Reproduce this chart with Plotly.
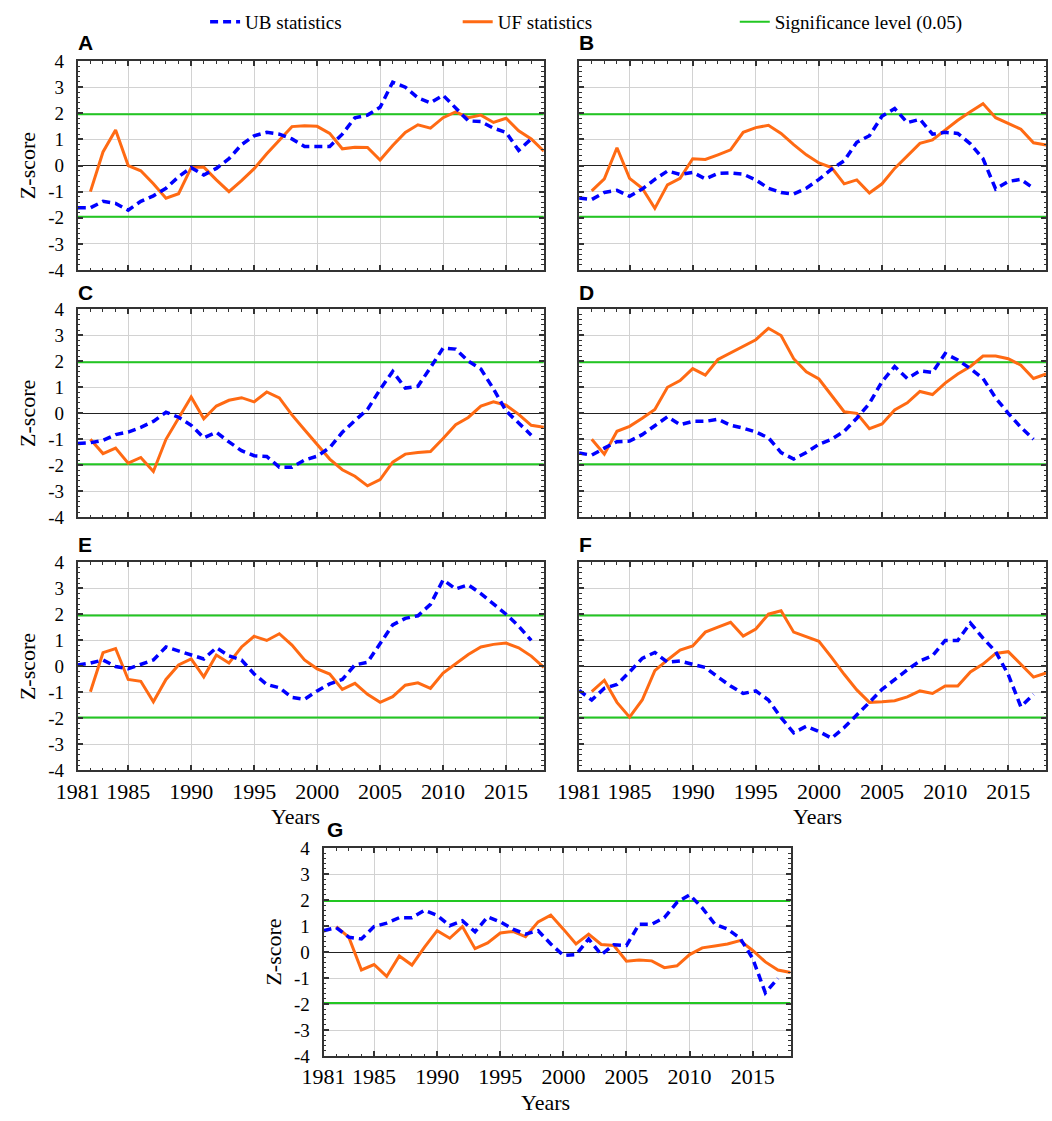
import plotly.graph_objects as go

# ---------------- data ----------------
YEARS_UB = list(range(1981, 2018))   # UB statistics 1981-2017
YEARS_UF = list(range(1982, 2019))   # UF statistics 1982-2018
X_RANGE = [1981, 2018]
X_TICKS = [1981, 1985, 1990, 1995, 2000, 2005, 2010, 2015]
Y_TICKS = [-4, -3, -2, -1, 0, 1, 2, 3, 4]
SIG = 1.96
PANELS = ["A", "B", "C", "D", "E", "F", "G"]

UF_A = [-1.0, 0.52, 1.36, 0.0, -0.2, -0.7, -1.25, -1.08,
        -0.08, -0.06, -0.55, -1.0, -0.58, -0.12, 0.45, 0.98, 1.49, 1.52,
        1.5, 1.23, 0.64, 0.7, 0.69, 0.21, 0.77, 1.27, 1.56, 1.43,
        1.83, 2.05, 1.83, 1.93, 1.65, 1.81, 1.33, 1.02, 0.55]
UB_A = [-1.62, -1.62, -1.37, -1.45, -1.71, -1.37, -1.16, -0.87, -0.43,
        -0.08, -0.36, -0.11, 0.26, 0.8, 1.14, 1.27, 1.2, 1.02, 0.73,
        0.73, 0.73, 1.2, 1.83, 1.93, 2.23, 3.19, 3.0, 2.59, 2.4,
        2.69, 2.19, 1.71, 1.68, 1.43, 1.27, 0.58, 1.02]

UF_B = [-0.97, -0.51, 0.68, -0.49, -0.87, -1.64, -0.74, -0.49,
        0.26, 0.23, 0.41, 0.6, 1.27, 1.45, 1.54, 1.23, 0.8, 0.41,
        0.1, -0.08, -0.7, -0.55, -1.05, -0.7, -0.11, 0.39, 0.85, 0.98,
        1.35, 1.73, 2.06, 2.37, 1.83, 1.6, 1.39, 0.87, 0.79]
UB_B = [-1.24, -1.3, -1.03, -0.95, -1.18, -0.9, -0.53, -0.21, -0.34,
        -0.26, -0.51, -0.3, -0.28, -0.33, -0.55, -0.87, -1.03, -1.09, -0.87,
        -0.53, -0.14, 0.18, 0.89, 1.14, 1.89, 2.18, 1.64, 1.77, 1.2,
        1.27, 1.23, 0.83, 0.26, -0.9, -0.61, -0.53, -0.87]

UF_C = [-1.0, -1.55, -1.34, -1.92, -1.7, -2.24, -1.0, -0.19,
        0.63, -0.21, 0.28, 0.5, 0.6, 0.44, 0.82, 0.59, -0.06, -0.63,
        -1.19, -1.76, -2.17, -2.42, -2.79, -2.55, -1.88, -1.57, -1.51, -1.47,
        -0.97, -0.44, -0.16, 0.28, 0.44, 0.31, -0.04, -0.46, -0.54]
UB_C = [-1.16, -1.13, -1.04, -0.82, -0.72, -0.54, -0.31, 0.04, -0.15,
        -0.46, -0.94, -0.73, -1.1, -1.44, -1.63, -1.66, -2.07, -2.07, -1.8,
        -1.65, -1.32, -0.73, -0.28, 0.15, 0.92, 1.61, 0.97, 1.04, 1.76,
        2.51, 2.47, 2.01, 1.7, 0.94, 0.09, -0.38, -0.84]

UF_D = [-1.0, -1.57, -0.69, -0.5, -0.19, 0.15, 1.0, 1.26,
        1.72, 1.47, 2.07, 2.32, 2.58, 2.83, 3.27, 2.99, 2.1, 1.6,
        1.32, 0.69, 0.06, 0.0, -0.59, -0.41, 0.13, 0.4, 0.84, 0.72,
        1.16, 1.51, 1.8, 2.2, 2.2, 2.1, 1.85, 1.34, 1.51]
UB_D = [-1.53, -1.61, -1.34, -1.09, -1.07, -0.82, -0.48, -0.13, -0.44,
        -0.31, -0.31, -0.23, -0.46, -0.57, -0.72, -0.94, -1.51, -1.76, -1.51,
        -1.19, -1.0, -0.69, -0.19, 0.38, 1.22, 1.8, 1.34, 1.63, 1.57,
        2.3, 2.05, 1.72, 1.34, 0.59, 0.0, -0.54, -1.0]

UF_E = [-0.97, 0.53, 0.69, -0.5, -0.57, -1.36, -0.5, 0.06,
        0.29, -0.4, 0.44, 0.13, 0.75, 1.16, 1.0, 1.26, 0.82, 0.25,
        -0.09, -0.29, -0.88, -0.65, -1.07, -1.38, -1.16, -0.72, -0.63, -0.84,
        -0.25, 0.1, 0.46, 0.75, 0.85, 0.9, 0.72, 0.4, -0.04]
UB_E = [0.06, 0.13, 0.25, 0.0, -0.09, 0.09, 0.25, 0.75, 0.59,
        0.44, 0.29, 0.72, 0.41, 0.25, -0.29, -0.69, -0.82, -1.19, -1.26,
        -0.94, -0.67, -0.5, 0.06, 0.16, 0.88, 1.6, 1.85, 1.95, 2.39,
        3.33, 2.98, 3.14, 2.8, 2.39, 2.01, 1.55, 1.0]

UF_F = [-0.97, -0.53, -1.38, -1.95, -1.29, -0.16, 0.25, 0.63,
        0.79, 1.32, 1.51, 1.7, 1.17, 1.44, 2.01, 2.14, 1.32, 1.13,
        0.97, 0.35, -0.3, -0.9, -1.38, -1.36, -1.32, -1.17, -0.94, -1.04,
        -0.75, -0.75, -0.21, 0.09, 0.5, 0.57, 0.06, -0.41, -0.25]
UB_F = [-0.92, -1.29, -0.84, -0.69, -0.21, 0.31, 0.54, 0.16, 0.21,
        0.1, -0.04, -0.41, -0.75, -1.04, -0.94, -1.29, -1.97, -2.55, -2.3,
        -2.5, -2.76, -2.35, -1.88, -1.38, -0.88, -0.5, -0.13, 0.21, 0.41,
        1.0, 1.0, 1.67, 1.09, 0.57, -0.31, -1.55, -1.07]

UF_G = [0.98, 0.57, -0.69, -0.48, -0.94, -0.15, -0.5, 0.19,
        0.82, 0.53, 0.98, 0.13, 0.35, 0.73, 0.79, 0.59, 1.16, 1.42,
        0.88, 0.31, 0.69, 0.29, 0.25, -0.35, -0.31, -0.34, -0.6, -0.53,
        -0.1, 0.16, 0.23, 0.31, 0.44, 0.06, -0.38, -0.69, -0.79]
UB_G = [0.82, 0.94, 0.57, 0.5, 0.98, 1.11, 1.32, 1.32, 1.6,
        1.41, 1.01, 1.2, 0.78, 1.35, 1.16, 0.88, 0.69, 0.82, 0.31,
        -0.13, -0.1, 0.5, -0.1, 0.28, 0.25, 1.07, 1.07, 1.32, 1.91,
        2.2, 1.7, 1.07, 0.88, 0.53, -0.25, -1.57, -1.01]

UF_ALL = [UF_A, UF_B, UF_C, UF_D, UF_E, UF_F, UF_G]
UB_ALL = [UB_A, UB_B, UB_C, UB_D, UB_E, UB_F, UB_G]

# ---------------- layout geometry ----------------
W, H = 1052, 1121
def xd(a, b):
    return [a / W, b / W]
def yd(top, bottom):
    return [1 - bottom / H, 1 - top / H]

X_DOMS = [xd(57, 533), xd(569, 1046), xd(57, 533), xd(569, 1046),
          xd(57, 533), xd(569, 1046), xd(308, 785)]
Y_DOMS = [yd(52, 265), yd(52, 265), yd(305, 517), yd(305, 517),
          yd(563, 775), yd(563, 775), yd(854, 1066)]
SHOW_X = [False, False, False, False, True, True, True]
SHOW_Y = [True, False, True, False, True, False, True]

BLUE = "#0000ff"
ORANGE = "#ff6a13"
GREEN = "#22c722"
FRAME = "#333333"
GRID = "#d2d2d2"
SERIF = "Liberation Serif, Times New Roman, serif"

fig = go.Figure()

for i in range(7):
    n = "" if i == 0 else str(i + 1)
    xa, ya = "x" + n, "y" + n
    fig.add_trace(go.Scatter(
        x=[X_RANGE[0], X_RANGE[1], None, X_RANGE[0], X_RANGE[1]],
        y=[SIG, SIG, None, -SIG, -SIG], mode="lines",
        line=dict(color=GREEN, width=2), xaxis=xa, yaxis=ya,
        name="Significance level (0.05)", legend="legend3",
        showlegend=(i == 0), hoverinfo="skip"))
    fig.add_trace(go.Scatter(
        x=YEARS_UF, y=UF_ALL[i], mode="lines",
        line=dict(color=ORANGE, width=3), xaxis=xa, yaxis=ya,
        name="UF statistics", legend="legend2", showlegend=(i == 0)))
    fig.add_trace(go.Scatter(
        x=YEARS_UB, y=UB_ALL[i], mode="lines",
        line=dict(color=BLUE, width=3.5, dash="8px,5px"), xaxis=xa, yaxis=ya,
        name="UB statistics", legend="legend", showlegend=(i == 0)))

layout = dict(
    width=W, height=H, margin=dict(l=0, r=0, t=0, b=0),
    paper_bgcolor="white", plot_bgcolor="white",
    font=dict(family=SERIF, color="black", size=19),
    showlegend=True,
)
for i in range(7):
    n = "" if i == 0 else str(i + 1)
    layout["xaxis" + n] = dict(
        domain=X_DOMS[i], anchor="y" + n, range=X_RANGE,
        tickmode="array", tickvals=X_TICKS, ticktext=[str(t) for t in X_TICKS],
        ticks="inside", ticklen=5, tickwidth=1.5, tickcolor=FRAME,
        showline=True, linecolor=FRAME, linewidth=2, mirror="allticks",
        showgrid=True, gridcolor=GRID, gridwidth=1, zeroline=False,
        minor=dict(tickmode="array", tickvals=list(range(X_RANGE[0], X_RANGE[1] + 1)),
                   ticks="inside", ticklen=2.5, tickwidth=1.2, tickcolor=FRAME,
                   showgrid=False),
        showticklabels=SHOW_X[i], tickfont=dict(family=SERIF, size=22),
        ticklabelstandoff=0,
    )
    layout["yaxis" + n] = dict(
        domain=Y_DOMS[i], anchor="x" + n, range=[-4, 4],
        tickmode="array", tickvals=Y_TICKS, ticktext=[str(t) for t in Y_TICKS],
        ticks="inside", ticklen=5, tickwidth=1.5, tickcolor=FRAME,
        showline=True, linecolor=FRAME, linewidth=2, mirror="allticks",
        showgrid=True, gridcolor=GRID, gridwidth=1,
        zeroline=True, zerolinecolor="#222222", zerolinewidth=1,
        minor=dict(dtick=0.2, ticks="inside", ticklen=2.5, tickwidth=1.2,
                   tickcolor=FRAME, showgrid=False),
        showticklabels=SHOW_Y[i], tickfont=dict(family=SERIF, size=19),
        ticklabelstandoff=8,
        title=dict(text="Z-score" if SHOW_Y[i] else "", font=dict(family=SERIF, size=22),
                   standoff=6),
    )

leg_common = dict(orientation="h", yanchor="middle", y=1 - 12 / H, xanchor="left",
                  font=dict(family=SERIF, size=19), bgcolor="rgba(0,0,0,0)",
                  itemwidth=30)
layout["legend"] = dict(leg_common, x=187 / W)
layout["legend2"] = dict(leg_common, x=445 / W)
layout["legend3"] = dict(leg_common, x=728 / W)

annotations = []
LABEL_POS = [(55, 33), (567, 33), (55, 288), (567, 288), (55, 545), (567, 545), (309, 835)]
for lab, (px, py) in zip(PANELS, LABEL_POS):
    annotations.append(dict(
        text="<b>%s</b>" % lab, xref="paper", yref="paper",
        x=px / W, y=1 - py / H, xanchor="left", yanchor="middle", showarrow=False,
        font=dict(family="Liberation Sans, Arial, sans-serif", size=21, color="black")))
# x-axis titles ("Years") under the bottom panels, placed just below the tick labels
YEARS_TITLE_POS = [(279, 807), (812, 807), (535, 1099)]
for px, py in YEARS_TITLE_POS:
    annotations.append(dict(
        text="Years", xref="paper", yref="paper",
        x=px / W, y=1 - py / H, xanchor="center", yanchor="top", showarrow=False,
        font=dict(family=SERIF, size=22, color="black")))
layout["annotations"] = annotations

fig.update_layout(**layout)
fig.write_html("out.html", config={"displayModeBar": False},
               post_script="document.body.style.margin='0';")
